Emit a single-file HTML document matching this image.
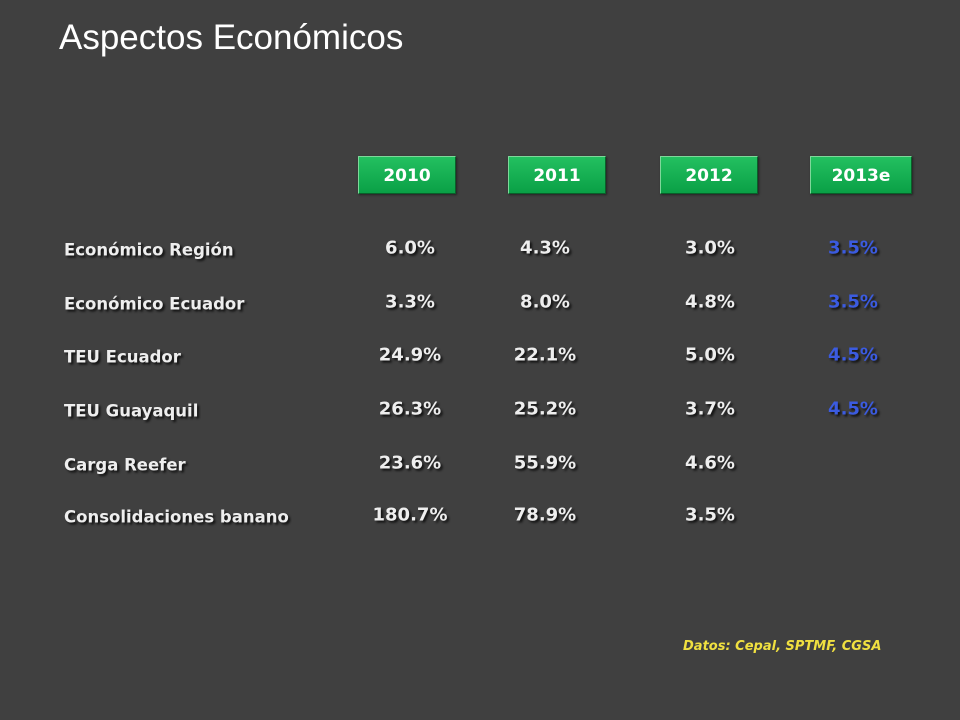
<!DOCTYPE html>
<html><head><meta charset="utf-8"><style>
body{margin:0;width:960px;height:720px;background:#404040;font-family:"Liberation Sans",sans-serif;position:relative;overflow:hidden}
.t{position:absolute;left:59px;top:18px;font-size:35px;color:#fff;letter-spacing:0px}
.box{position:absolute;top:156px;height:38px;width:98px;background:linear-gradient(#23c060,#0aa046);border:1px solid #7fd79a;border-right-color:#0a5f2a;border-bottom-color:#0a5f2a;box-shadow:1px 1px 2px #222;color:#fff;font-weight:bold;font-size:19px;text-align:center;line-height:38px;box-sizing:border-box;font-family:"DejaVu Sans",sans-serif;font-size:17px}
.lab{position:absolute;left:64px;font-size:16.5px;font-weight:bold;color:#eee;text-shadow:2px 2px 2px #111;transform:translateY(-50%);font-family:"DejaVu Sans",sans-serif}
.v{position:absolute;font-size:18px;font-weight:bold;color:#eee;text-shadow:2px 2px 2px #111;transform:translate(-50%,-50%);font-family:"DejaVu Sans",sans-serif}
.b{color:#3b5be0}
.src{position:absolute;left:683px;top:639px;font-size:13px;font-weight:bold;font-style:italic;color:#f0e040;font-family:"DejaVu Sans",sans-serif}
</style></head><body>
<div class="t">Aspectos Económicos</div>
<div class="box" style="left:358px">2010</div>
<div class="box" style="left:508px">2011</div>
<div class="box" style="left:660px">2012</div>
<div class="box" style="left:810px;width:102px">2013e</div>
<div id="rows"></div>
<div class="src">Datos: Cepal, SPTMF, CGSA</div>
<script>
const labels=["Económico Región","Económico Ecuador","TEU Ecuador","TEU Guayaquil","Carga Reefer","Consolidaciones banano"];
const v2010=["6.0%","3.3%","24.9%","26.3%","23.6%","180.7%"];
const v2011=["4.3%","8.0%","22.1%","25.2%","55.9%","78.9%"];
const v2012=["3.0%","4.8%","5.0%","3.7%","4.6%","3.5%"];
const v2013=["3.5%","3.5%","4.5%","4.5%","",""];
const ys=[248,302,355,409,463,515];
const xs=[410,545,710,853];
const cols=[v2010,v2011,v2012,v2013];
const root=document.getElementById('rows');
labels.forEach((l,i)=>{
 const d=document.createElement('div');d.className='lab';d.style.top=(ys[i]+2)+'px';d.textContent=l;
 
 
 root.appendChild(d);
 cols.forEach((c,j)=>{if(!c[i])return;
  const e=document.createElement('div');e.className='v'+(j==3?' b':'');e.style.left=xs[j]+'px';e.style.top=ys[i]+'px';e.textContent=c[i];
  
  
  root.appendChild(e);});
});
</script>
</body></html>
